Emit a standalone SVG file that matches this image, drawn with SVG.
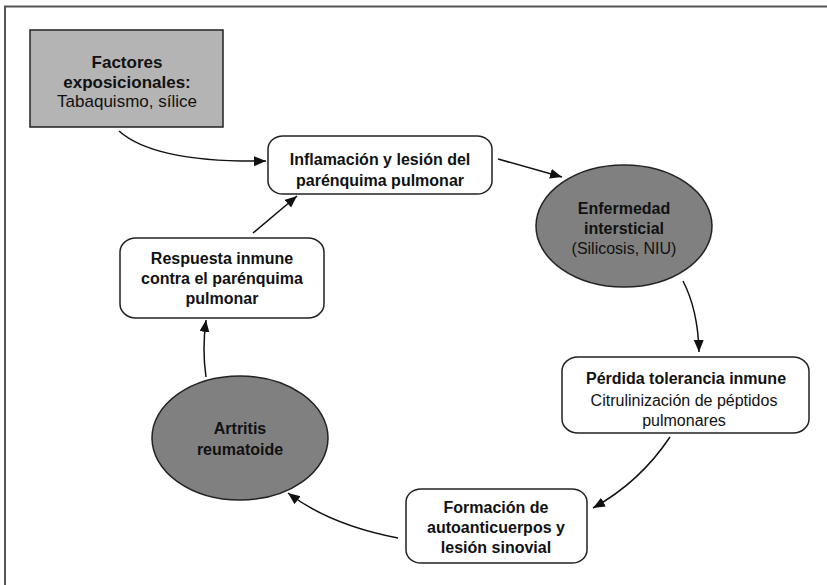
<svg xmlns="http://www.w3.org/2000/svg" width="827" height="585" viewBox="0 0 827 585">
<style>
.t{font-family:"Liberation Sans",Arial,sans-serif;font-size:16px;fill:#111;text-anchor:middle}
.f{font-size:17px}
.b{font-weight:bold}
.box{fill:#fff;stroke:#222;stroke-width:1.5}
.ell{fill:#808080;stroke:#222;stroke-width:1.5}
.c{fill:none;stroke:#111;stroke-width:1.5}
</style>
<defs>
<marker id="ah" markerUnits="userSpaceOnUse" markerWidth="14" markerHeight="12" refX="12" refY="5" orient="auto">
<path d="M0,0 L12,5 L0,10 Z" fill="#111"/>
</marker>
</defs>
<rect width="827" height="585" fill="#fff"/>
<path d="M5,585 L5,6.5 L827,6.5" fill="none" stroke="#555" stroke-width="2"/>
<g id="connectors">
<path class="c" d="M119,131 Q155,163 266,161" marker-end="url(#ah)"/>
<path class="c" d="M498,159 L562,177" marker-end="url(#ah)"/>
<path class="c" d="M683,281 Q698,310 699,352" marker-end="url(#ah)"/>
<path class="c" d="M670,437 Q640,482 593,508" marker-end="url(#ah)"/>
<path class="c" d="M398,538 Q330,525 288,493" marker-end="url(#ah)"/>
<path class="c" d="M206,377 Q202,350 206,320" marker-end="url(#ah)"/>
<path class="c" d="M253,233 L297,196" marker-end="url(#ah)"/>
</g>
<g id="factores">
<rect x="30" y="30" width="193" height="97" fill="#b4b4b4" stroke="#222" stroke-width="1.5"/>
<text class="t f b" x="127" y="68">Factores</text>
<text class="t f b" x="127" y="88">exposicionales:</text>
<text class="t f" x="127" y="107">Tabaquismo, sílice</text>
</g>
<g id="inflamacion">
<rect class="box" x="268" y="136" width="224" height="58" rx="15" ry="13"/>
<text class="t b" x="380" y="165">Inflamación y lesión del</text>
<text class="t b" x="380" y="186">parénquima pulmonar</text>
</g>
<g id="enfermedad">
<ellipse class="ell" cx="624" cy="226" rx="88" ry="61"/>
<text class="t b" x="624" y="214">Enfermedad</text>
<text class="t b" x="624" y="234">intersticial</text>
<text class="t" x="624" y="254">(Silicosis, NIU)</text>
</g>
<g id="perdida">
<rect class="box" x="562" y="357" width="247" height="76" rx="16" ry="14"/>
<text class="t b" x="686" y="384">Pérdida tolerancia inmune</text>
<text class="t" x="684" y="406">Citrulinización de péptidos</text>
<text class="t" x="684" y="426">pulmonares</text>
</g>
<g id="formacion">
<rect class="box" x="406" y="489" width="181" height="74" rx="15" ry="13"/>
<text class="t b" x="496" y="513">Formación de</text>
<text class="t b" x="496" y="533">autoanticuerpos y</text>
<text class="t b" x="496" y="553">lesión sinovial</text>
</g>
<g id="artritis">
<ellipse class="ell" cx="240" cy="438" rx="88" ry="62"/>
<text class="t b" x="240" y="434">Artritis</text>
<text class="t b" x="240" y="455">reumatoide</text>
</g>
<g id="respuesta">
<rect class="box" x="120" y="238" width="204" height="80" rx="16" ry="14"/>
<text class="t b" x="222" y="264">Respuesta inmune</text>
<text class="t b" x="222" y="284">contra el parénquima</text>
<text class="t b" x="222" y="304">pulmonar</text>
</g>
</svg>
